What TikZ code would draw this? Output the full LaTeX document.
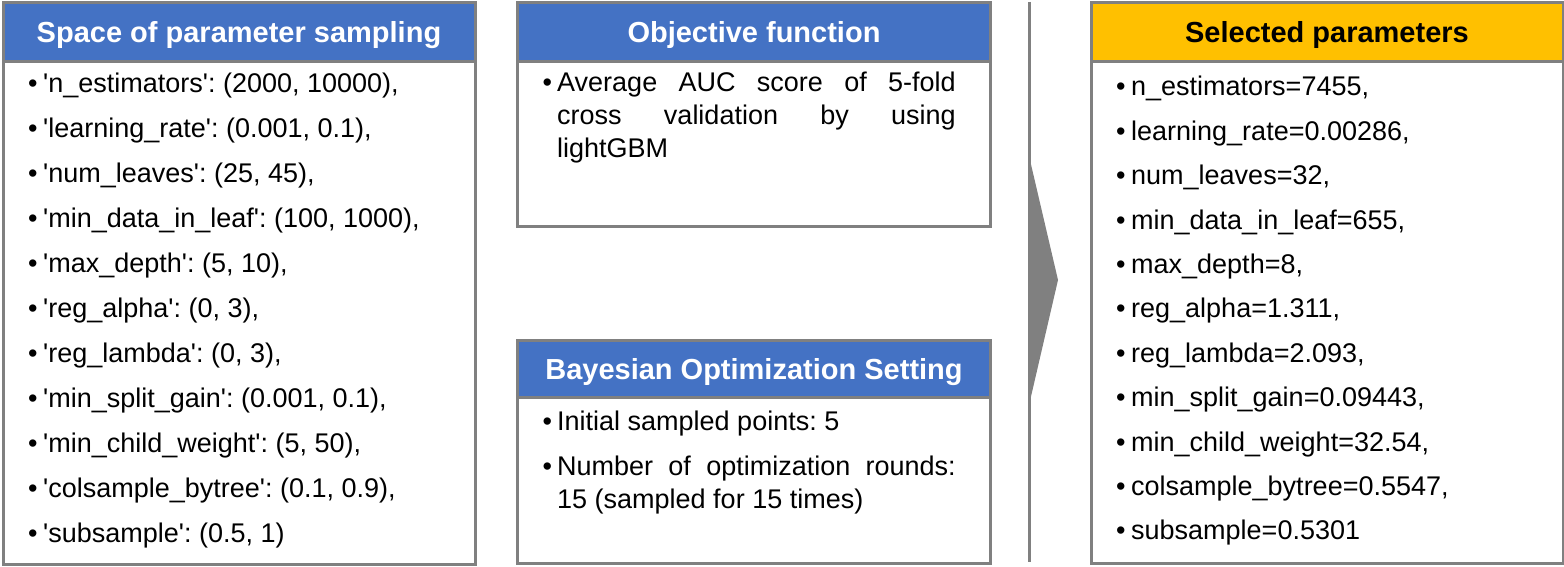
\documentclass[tikz,border=0pt]{standalone}
\usepackage{fontspec}
\setmainfont{Liberation Sans}[Ligatures=TeXOff]
\definecolor{hdrblue}{HTML}{4472C4}
\definecolor{hdrgold}{HTML}{FFC000}
\definecolor{bordergray}{HTML}{808080}
\tolerance=10000\relax
\hyphenpenalty=10000\relax
\frenchspacing
\newlength\bhang
\setlength\bhang{15pt}
\newcommand\bitem[1]{\noindent\hangindent=\bhang\relax\hangafter=1\relax\makebox[\bhang][l]{•}#1\par}
\tikzset{
  panel/.style={draw=bordergray, line width=3pt, fill=white, inner sep=0pt, anchor=north west},
  hdr/.style={draw=bordergray, line width=3pt, inner sep=0pt, anchor=north west},
  hdrtext/.style={inner sep=0pt, text height=20.8pt, text depth=0pt, font=\fontsize{29}{33}\bfseries\selectfont},
  body/.style={anchor=base west, inner sep=0pt, text width=#1, align=justify, font=\fontsize{27}{33}\selectfont\frenchspacing},
  sepline/.style={draw=bordergray, line width=2.7pt},
  chevron/.style={fill=bordergray}
}
\begin{document}
\begin{tikzpicture}[x=1pt,y=-1pt]
\useasboundingbox (0,0) rectangle (1564,567);
% left panel
\node[panel, minimum width=472pt, minimum height=561pt] (sp) at (1.5,1.5) {};
\node[hdr, fill=hdrblue, minimum width=472pt, minimum height=58.5pt] (sph) at (1.5,1.5) {};
\node[hdrtext, text=white] (spt) at (sph.center) {Space of parameter sampling};
\node[body=440pt] (spb) at (28,93) {\parskip=12pt\relax
\bitem{'n\_estimators': (2000, 10000),}
\bitem{'learning\_rate': (0.001, 0.1),}
\bitem{'num\_leaves': (25, 45),}
\bitem{'min\_data\_in\_leaf': (100, 1000),}
\bitem{'max\_depth': (5, 10),}
\bitem{'reg\_alpha': (0, 3),}
\bitem{'reg\_lambda': (0, 3),}
\bitem{'min\_split\_gain': (0.001, 0.1),}
\bitem{'min\_child\_weight': (5, 50),}
\bitem{'colsample\_bytree': (0.1, 0.9),}
\bitem{'subsample': (0.5, 1)}};
% objective function panel
\node[panel, minimum width=473pt, minimum height=223.5pt] (of) at (516,1.5) {};
\node[hdr, fill=hdrblue, minimum width=473pt, minimum height=58.5pt] (ofh) at (516,1.5) {};
\node[hdrtext, text=white] (oft) at (ofh.center) {Objective function};
\node[body=413pt] (ofb) at (542.5,92) {\setlength\bhang{14.5pt}%
\bitem{Average AUC score of 5-fold\linebreak cross validation by using\linebreak lightGBM}};
% bayesian panel
\node[panel, minimum width=473pt, minimum height=223pt] (bo) at (516,338.5) {};
\node[hdr, fill=hdrblue, minimum width=473pt, minimum height=57.5pt] (boh) at (516,338.5) {};
\node[hdrtext, text=white] (bot) at (boh.center) {Bayesian Optimization Setting};
\node[body=413pt] (bob) at (542.5,430) {\parskip=12pt\relax\setlength\bhang{14.5pt}%
\bitem{Initial sampled points: 5}
\bitem{Number of optimization rounds:\linebreak 15 (sampled for 15 times)}};
% separator line and chevron
\coordinate (lt) at (1029.5,2);
\coordinate (lb) at (1029.5,562);
\draw[sepline] (lt) -- (lb);
\coordinate (ct) at (1029.5,158);
\coordinate (cp) at (1058,280);
\coordinate (cb) at (1029.5,403);
\fill[chevron] (ct) -- (cp) -- (cb) -- cycle;
% selected parameters panel
\node[panel, minimum width=472pt, minimum height=560.5pt] (sel) at (1089.5,1.5) {};
\node[hdr, fill=hdrgold, minimum width=472pt, minimum height=58.5pt] (selh) at (1089.5,1.5) {};
\node[hdrtext, text=black] (selt) at (selh.center) {Selected parameters};
\node[body=440pt] (selb) at (1116,96) {\parskip=11.4pt\relax
\bitem{n\_estimators=7455,}
\bitem{learning\_rate=0.00286,}
\bitem{num\_leaves=32,}
\bitem{min\_data\_in\_leaf=655,}
\bitem{max\_depth=8,}
\bitem{reg\_alpha=1.311,}
\bitem{reg\_lambda=2.093,}
\bitem{min\_split\_gain=0.09443,}
\bitem{min\_child\_weight=32.54,}
\bitem{colsample\_bytree=0.5547,}
\bitem{subsample=0.5301}};
\end{tikzpicture}
\end{document}
